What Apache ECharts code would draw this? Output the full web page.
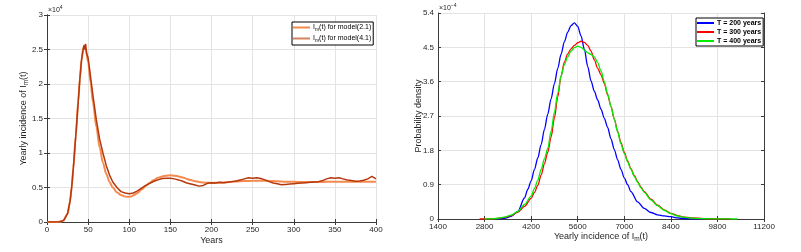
<!DOCTYPE html>
<html><head><meta charset="utf-8">
<script src="https://cdn.jsdelivr.net/npm/echarts@6/dist/echarts.min.js"></script>
<style>html,body{margin:0;padding:0;background:#fff}#c{width:801px;height:252px}</style>
</head><body><div id="c"></div>
<script>
// ---------- Left chart data (values in units of 1e4) ----------
const leftXTicks = [0, 50, 100, 150, 200, 250, 300, 350, 400];
const leftYTicks = [0, 0.5, 1, 1.5, 2, 2.5, 3];
const model21Years = [0,10,15,20,25,28,30,32,35,38,40,42,44,45.5,47,50,53,56,60,64,68,72,76,80,85,90,95,98,102,106,110,115,120,125,130,135,140,145,150,155,160,165,170,175,180,185,190,195,200,210,220,230,240,250,260,270,280,290,300,310,320,330,340,350,360,370,380,390,400];
const model21Values = [0,0,0.003,0.02,0.12,0.3,0.5,0.78,1.25,1.75,2.08,2.35,2.52,2.56,2.52,2.32,2.02,1.72,1.38,1.08,0.86,0.7,0.58,0.5,0.43,0.39,0.37,0.365,0.37,0.39,0.42,0.47,0.52,0.57,0.61,0.64,0.66,0.672,0.677,0.672,0.66,0.645,0.625,0.607,0.592,0.58,0.572,0.568,0.567,0.57,0.578,0.586,0.593,0.597,0.598,0.595,0.59,0.585,0.582,0.58,0.58,0.581,0.582,0.583,0.584,0.584,0.584,0.584,0.584];
const model41Years = [0,5,10,15,20,25,28,30,32,35,38,40,42,44,45,46,47,48,50,53,56,60,64,68,72,76,80,85,90,95,100,105,110,115,120,125,130,135,140,145,150,155,160,165,170,175,180,185,190,195,200,205,210,215,220,225,230,235,240,245,250,255,260,265,270,275,280,285,290,295,300,305,310,315,320,325,330,335,340,345,350,355,360,365,370,375,380,385,390,395,400];
const model41Values = [0,0,0,0.003,0.02,0.12,0.3,0.5,0.78,1.25,1.75,2.08,2.35,2.5,2.56,2.5,2.58,2.45,2.38,2.1,1.82,1.48,1.2,1.0,0.82,0.68,0.58,0.5,0.44,0.42,0.41,0.42,0.45,0.49,0.53,0.56,0.59,0.61,0.63,0.635,0.633,0.625,0.61,0.59,0.565,0.55,0.535,0.52,0.53,0.56,0.57,0.565,0.575,0.57,0.575,0.585,0.595,0.61,0.625,0.64,0.635,0.64,0.63,0.61,0.585,0.565,0.555,0.54,0.545,0.55,0.555,0.56,0.565,0.57,0.575,0.58,0.585,0.6,0.625,0.64,0.635,0.64,0.625,0.61,0.6,0.59,0.595,0.605,0.625,0.66,0.625];

// ---------- Right chart data (density in units of 1e-4) ----------
const rightXTicks = [1400, 2800, 4200, 5600, 7000, 8400, 9800, 11200];
const rightYTicks = [0, 0.9, 1.8, 2.7, 3.6, 4.5, 5.4];
const t200X = [3200,3400,3600,3800,4000,4100,4200,4300,4400,4500,4600,4700,4800,4900,5000,5100,5200,5300,5400,5500,5600,5700,5800,5900,6000,6100,6200,6300,6400,6500,6600,6700,6800,6900,7000,7100,7200,7400,7600,7800,8000,8200,8400,8600,8800,9000,9400];
const t200Y = [0,0.02,0.07,0.2,0.55,0.78,1.0,1.3,1.6,1.95,2.35,2.75,3.15,3.55,3.95,4.32,4.65,4.9,5.07,5.14,5.05,4.8,4.45,4.0,3.62,3.35,3.12,2.88,2.64,2.4,2.1,1.82,1.55,1.3,1.08,0.9,0.72,0.45,0.28,0.17,0.11,0.08,0.06,0.03,0.01,0.003,0];
const t300X = [2650,2800,3000,3200,3400,3600,3800,4000,4200,4300,4400,4500,4600,4700,4800,4900,5000,5100,5200,5300,5400,5500,5600,5700,5800,5900,6000,6100,6200,6300,6400,6500,6600,6700,6800,6900,7000,7100,7200,7300,7400,7500,7600,7800,8000,8200,8400,8600,8800,9000,9400,9800,10200];
const t300Y = [0,0,0.003,0.015,0.04,0.09,0.18,0.33,0.54,0.7,0.88,1.15,1.45,1.75,2.15,2.65,3.2,3.75,4.12,4.33,4.46,4.55,4.62,4.66,4.63,4.55,4.4,4.17,3.95,3.78,3.55,3.25,2.95,2.62,2.3,2.0,1.75,1.52,1.32,1.14,0.98,0.84,0.72,0.52,0.36,0.24,0.15,0.09,0.05,0.03,0.01,0.003,0];
const t400X = [2800,3000,3200,3400,3600,3800,4000,4200,4300,4400,4500,4600,4700,4800,4900,5000,5100,5200,5300,5400,5500,5600,5700,5800,5900,6000,6100,6200,6300,6400,6500,6600,6700,6800,6900,7000,7100,7200,7300,7400,7500,7600,7800,8000,8200,8400,8600,8800,9000,9400,9800,10400];
const t400Y = [0,0.005,0.02,0.05,0.1,0.2,0.38,0.6,0.8,1.02,1.3,1.58,1.85,2.3,2.8,3.3,3.75,4.05,4.25,4.4,4.49,4.53,4.5,4.43,4.36,4.31,4.25,4.1,3.88,3.6,3.28,2.95,2.62,2.28,1.97,1.72,1.5,1.3,1.12,0.96,0.82,0.7,0.5,0.35,0.23,0.14,0.08,0.045,0.025,0.008,0.002,0];

const zip = (xs, ys) => xs.map((x, i) => [x, ys[i]]);
const FONT = 'Liberation Sans, Arial, sans-serif';
const TXT = '#262626';
const AX = '#3a3a3a';
const GRID = '#e3e3e3';

function axisPair(kind, gridIndex, ticks, labelFmt, nameOpts) {
  const min = ticks[0], max = ticks[ticks.length - 1];
  const interval = ticks[1] - ticks[0];
  const main = Object.assign({
    type: 'value', gridIndex, min, max, interval,
    position: kind === 'x' ? 'bottom' : 'left',
    nameMoveOverlap: false,
    axisLine: { show: true, lineStyle: { color: AX, width: 1 } },
    axisTick: { show: true, inside: true, length: 3, lineStyle: { color: AX } },
    axisLabel: { show: true, color: TXT, fontSize: 8, fontFamily: FONT, margin: 4, formatter: labelFmt, showMinLabel: true, showMaxLabel: true },
    splitLine: { show: true, lineStyle: { color: GRID, width: 1 } }
  }, nameOpts);
  const other = {
    type: 'value', gridIndex, min, max, interval,
    position: kind === 'x' ? 'top' : 'right',
    axisLine: { show: true, lineStyle: { color: AX, width: 1 } },
    axisTick: { show: true, inside: true, length: 3, lineStyle: { color: AX } },
    axisLabel: { show: false },
    splitLine: { show: false }
  };
  return [main, other];
}

const subRich = {
  a: { fontSize: 9, color: TXT, fontFamily: FONT },
  s: { fontSize: 6.5, color: TXT, fontFamily: FONT, padding: [6, 0, 0, 0] }
};

const lx = axisPair('x', 0, leftXTicks, v => String(v), {
  name: 'Years', nameLocation: 'middle', nameGap: 14,
  nameTextStyle: { fontSize: 9, color: TXT, fontFamily: FONT }
});
const ly = axisPair('y', 0, leftYTicks, v => String(+v.toFixed(1)), {
  name: '{a|Yearly incidence of I}{s|m}{a|(t)}', nameLocation: 'middle', nameGap: 17,
  nameTextStyle: { fontSize: 9, color: TXT, fontFamily: FONT, rich: subRich }
});
const rx = axisPair('x', 1, rightXTicks, v => String(v), {
  name: '{a|Yearly incidence of I}{s|m}{a|(t)}', nameLocation: 'middle', nameGap: 11,
  nameTextStyle: { fontSize: 9, color: TXT, fontFamily: FONT, rich: subRich }
});
const ry = axisPair('y', 1, rightYTicks, v => String(+v.toFixed(1)), {
  name: 'Probability density', nameLocation: 'middle', nameGap: 15,
  nameTextStyle: { fontSize: 9, color: TXT, fontFamily: FONT }
});

const legendRich = {
  a: { fontSize: 7, color: '#000', fontFamily: FONT },
  s: { fontSize: 5, color: '#000', fontFamily: FONT, padding: [4, 0, 0, 0] }
};

const option = {
  animation: false,
  backgroundColor: '#fff',
  grid: [
    { left: 47, top: 15, width: 329, height: 207, containLabel: false },
    { left: 438, top: 13, width: 326, height: 206, containLabel: false }
  ],
  xAxis: [lx[0], lx[1], rx[0], rx[1]],
  yAxis: [ly[0], ly[1], ry[0], ry[1]],
  legend: [
    {
      data: [
        { name: 'm21', itemStyle: { color: '#F58A4E' } },
        { name: 'm41', itemStyle: { color: '#D4825F' } }
      ],
      orient: 'vertical', left: 292, top: 22, itemWidth: 17, itemHeight: 2, itemGap: 3,
      padding: [2, 2, 2, 1], borderColor: '#000', borderWidth: 1, backgroundColor: '#fff',
      icon: 'rect',
      formatter: n => n === 'm21' ? '{a|I}{s|m}{a|(t) for model(2.1)}' : '{a|I}{s|m}{a|(t) for model(4.1)}',
      textStyle: { rich: legendRich, padding: [0, 0, 0, -2] }
    },
    {
      data: [
        { name: 'T = 200 years', itemStyle: { color: '#0000FF' } },
        { name: 'T = 300 years', itemStyle: { color: '#FF0000' } },
        { name: 'T = 400 years', itemStyle: { color: '#00EE00' } }
      ],
      orient: 'vertical', left: 696, top: 18, itemWidth: 17, itemHeight: 2, itemGap: 1,
      icon: 'rect',
      padding: [1, 2, 1, 1], borderColor: '#000', borderWidth: 1, backgroundColor: '#fff',
      textStyle: { fontSize: 7, color: '#000', fontFamily: FONT, fontWeight: 'bold', lineHeight: 8, padding: [0, 0, 0, -2] }
    }
  ],
  graphic: [
    { type: 'text', left: 48, top: 5, style: { text: '{a|×10}{b|4}', rich: { a: { fontSize: 7, fill: TXT, fontFamily: FONT }, b: { fontSize: 5, fill: TXT, fontFamily: FONT, padding: [0, 0, 5, 0] } } } },
    { type: 'text', left: 439, top: 3, style: { text: '{a|×10}{b|−4}', rich: { a: { fontSize: 7, fill: TXT, fontFamily: FONT }, b: { fontSize: 5, fill: TXT, fontFamily: FONT, padding: [0, 0, 5, 0] } } } }
  ],
  series: [
    { name: 'm21', type: 'line', xAxisIndex: 0, yAxisIndex: 0, data: zip(model21Years, model21Values), symbol: 'none', smooth: 0.3, smoothMonotone: 'x', lineStyle: { color: '#F58A4E', width: 2 }, itemStyle: { color: '#F58A4E' } },
    { name: 'm41', type: 'line', xAxisIndex: 0, yAxisIndex: 0, data: zip(model41Years, model41Values), symbol: 'none', lineStyle: { color: '#B4380C', width: 1.5 }, itemStyle: { color: '#B4380C' } },
    { name: 'T = 200 years', type: 'line', xAxisIndex: 2, yAxisIndex: 2, data: zip(t200X, t200Y), symbol: 'none', smooth: 0.3, smoothMonotone: 'x', lineStyle: { color: '#0000FF', width: 1.3 }, itemStyle: { color: '#0000FF' } },
    { name: 'T = 300 years', type: 'line', xAxisIndex: 2, yAxisIndex: 2, data: zip(t300X, t300Y), symbol: 'none', smooth: 0.3, smoothMonotone: 'x', lineStyle: { color: '#FF0000', width: 1.3 }, itemStyle: { color: '#FF0000' } },
    { name: 'T = 400 years', type: 'line', xAxisIndex: 2, yAxisIndex: 2, data: zip(t400X, t400Y), symbol: 'none', smooth: 0.3, smoothMonotone: 'x', lineStyle: { color: '#00EE00', width: 1.3 }, itemStyle: { color: '#00EE00' } }
  ]
};
const chart = echarts.init(document.getElementById('c'), null, { renderer: 'canvas' });
chart.setOption(option);
</script></body></html>
